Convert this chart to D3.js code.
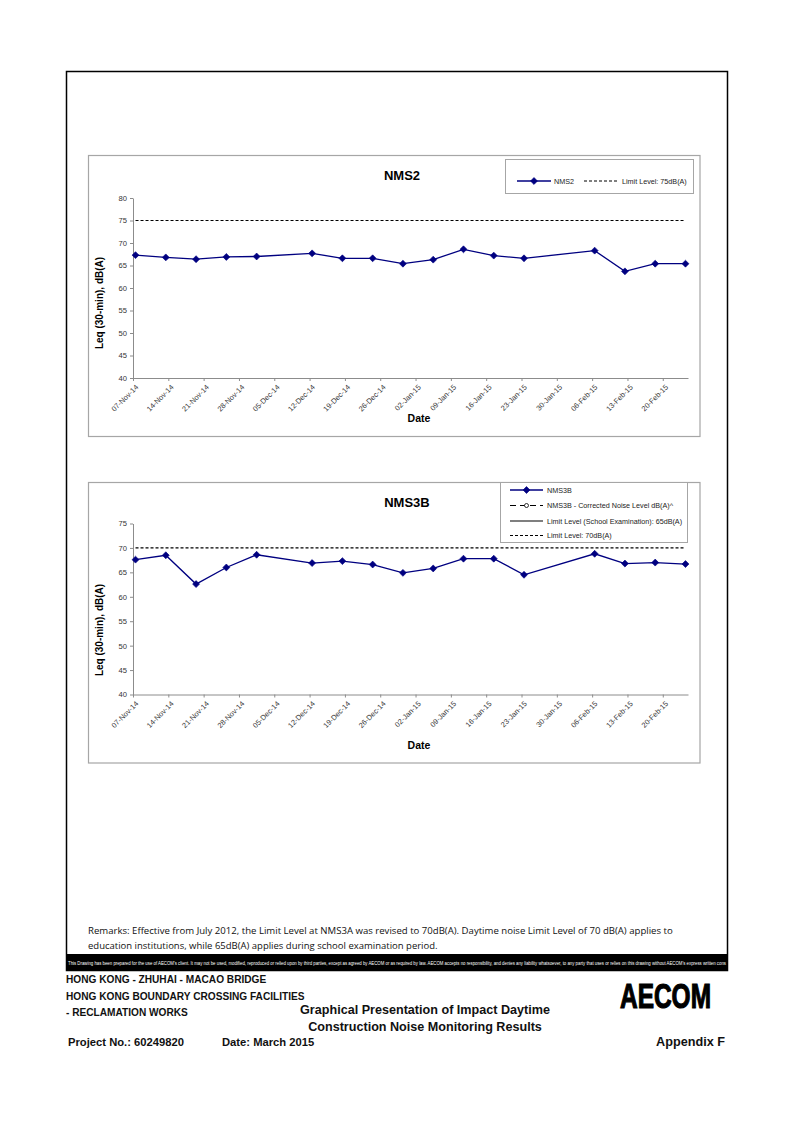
<!DOCTYPE html>
<html><head><meta charset="utf-8">
<script src="https://cdn.jsdelivr.net/npm/d3@7"></script>
<style>body{margin:0;background:#fff}</style>
</head><body><svg id="page" width="794" height="1122" xmlns="http://www.w3.org/2000/svg"></svg>
<script>
// ---------------- DATA ----------------
const sampleDates = ["2014-11-07","2014-11-13","2014-11-19","2014-11-25","2014-12-01","2014-12-12","2014-12-18","2014-12-24","2014-12-30","2015-01-05","2015-01-11","2015-01-17","2015-01-23","2015-02-06","2015-02-12","2015-02-18","2015-02-24"];
const nms2Values = [67.3,66.8,66.4,66.9,67.0,67.7,66.6,66.6,65.4,66.3,68.6,67.2,66.6,68.3,63.7,65.4,65.4];
const nms2Limit = [75,75,75,75,75,75,75,75,75,75,75,75,75,75,75,75,75];
const nms3bValues = [67.6,68.5,62.6,66.0,68.6,66.9,67.3,66.6,64.9,65.8,67.8,67.8,64.5,68.8,66.8,67.0,66.7];
const nms3bLimit = [70,70,70,70,70,70,70,70,70,70,70,70,70,70,70,70,70];
const nms3bCorrected = [];
const nms3bSchoolLimit = [];
const xDomainDates = ["2014-11-07","2015-02-25"];
const tickDates = ["2014-11-07","2014-11-14","2014-11-21","2014-11-28","2014-12-05","2014-12-12","2014-12-19","2014-12-26","2015-01-02","2015-01-09","2015-01-16","2015-01-23","2015-01-30","2015-02-06","2015-02-13","2015-02-20"];
const nms2YTicks = [40,45,50,55,60,65,70,75,80];
const nms3bYTicks = [40,45,50,55,60,65,70,75];
const nms2Legend = ["NMS2","Limit Level: 75dB(A)"];
const nms3bLegend = ["NMS3B","NMS3B - Corrected Noise Level dB(A)^","Limit Level (School Examination): 65dB(A)","Limit Level: 70dB(A)"];

// ---------------- SETUP ----------------
const svg = d3.select("#page");
const parse = d3.utcParse("%Y-%m-%d");
const fmt = d3.utcFormat("%d-%b-%y");
const ARIAL = "'Liberation Sans', Arial, sans-serif";
const NAVY = "#000080";
const sq = d3.symbol().type(d3.symbolSquare).size(24);

function fitText(sel, target){
  const fs = parseFloat(sel.attr("font-size"));
  const w = sel.node().getComputedTextLength();
  if (w > 0) sel.attr("font-size", (fs*target/w).toFixed(2));
  return sel;
}

function marker(g, cx, cy){
  g.append("path").attr("d", sq).attr("transform", `translate(${cx},${cy}) rotate(45)`).attr("fill", NAVY).attr("stroke", NAVY).attr("stroke-width", 0.6);
}

function drawChart(cfg){
  const g = svg.append("g");
  g.append("rect").attr("x", cfg.box[0]).attr("y", cfg.box[1]).attr("width", cfg.box[2]-cfg.box[0]).attr("height", cfg.box[3]-cfg.box[1])
    .attr("fill", "#fff").attr("stroke", "#a6a6a6").attr("stroke-width", 1.2);
  const P = cfg.plot;
  const x = d3.scaleUtc().domain(xDomainDates.map(parse)).range([P.left, P.right]);
  const y = d3.scaleLinear().domain([cfg.yTicks[0], cfg.yTicks[cfg.yTicks.length-1]]).range([P.bottom, P.top]);
  const mid = s => d3.utcHour.offset(parse(s), 12);

  // axes
  const xa = g.append("g").attr("transform", `translate(0,${P.bottom})`)
    .call(d3.axisBottom(x).tickValues(tickDates.map(parse)).tickFormat(fmt).tickSizeInner(3).tickSizeOuter(0));
  xa.select(".domain").attr("stroke", "#8c8c8c");
  xa.selectAll(".tick line").attr("stroke", "#8c8c8c");
  xa.selectAll(".tick text").attr("font-family", ARIAL).attr("font-size", 7.4).attr("fill", "#333")
    .attr("text-anchor", "end").attr("x", -3).attr("y", 8).attr("dy", "0.35em").attr("transform", "rotate(-45)");

  const ya = g.append("g").attr("transform", `translate(${P.left},0)`)
    .call(d3.axisLeft(y).tickValues(cfg.yTicks).tickSizeInner(3).tickSizeOuter(0).tickPadding(3));
  ya.select(".domain").attr("stroke", "#8c8c8c");
  ya.selectAll(".tick line").attr("stroke", "#8c8c8c");
  ya.selectAll(".tick text").attr("font-family", ARIAL).attr("font-size", 7.6).attr("fill", "#333");

  // limit line (dashed)
  const limitData = sampleDates.map((d,i)=>({d, v: cfg.limit[i]}));
  g.append("path").datum(limitData).attr("fill","none").attr("stroke","#000").attr("stroke-width",1.2).attr("stroke-dasharray","3,2")
    .attr("d", d3.line().x(p=>x(mid(p.d))).y(p=>y(p.v)));

  // main series
  const data = sampleDates.map((d,i)=>({d, v: cfg.values[i]}));
  g.append("path").datum(data).attr("fill","none").attr("stroke",NAVY).attr("stroke-width",1.3)
    .attr("d", d3.line().x(p=>x(mid(p.d))).y(p=>y(p.v)));
  data.forEach(p => marker(g, x(mid(p.d)), y(p.v)));

  // titles
  g.append("text").attr("x", cfg.titleX).attr("y", cfg.titleY).attr("text-anchor","middle")
    .attr("font-family", ARIAL).attr("font-weight","bold").attr("font-size", 13).text(cfg.title);
  g.append("text").attr("x", 419).attr("y", cfg.dateY).attr("text-anchor","middle")
    .attr("font-family", ARIAL).attr("font-weight","bold").attr("font-size", 10.5).text("Date");
  g.append("text").attr("transform", `translate(${cfg.yLabelX},${cfg.yLabelY}) rotate(-90)`).attr("text-anchor","middle")
    .attr("font-family", ARIAL).attr("font-weight","bold").attr("font-size", 10).text("Leq (30-min), dB(A)");
  return g;
}

// ---------------- FRAME ----------------
svg.append("rect").attr("x", 66.5).attr("y", 71.5).attr("width", 661).attr("height", 899).attr("fill","none").attr("stroke","#000").attr("stroke-width",1.5);

// ---------------- CHART 1 ----------------
const g1 = drawChart({
  box:[88.5,155.5,700,436.5],
  plot:{left:133, right:688, top:198, bottom:378},
  yTicks:nms2YTicks, values:nms2Values, limit:nms2Limit,
  title:"NMS2", titleX:402, titleY:180, dateY:422, yLabelX:103, yLabelY:303
});
(function(){
  const L = g1.append("g");
  L.append("rect").attr("x",505.5).attr("y",159.5).attr("width",188).attr("height",34).attr("fill","#fff").attr("stroke","#a6a6a6").attr("stroke-width",1);
  const ly = 181;
  L.append("line").attr("x1",517).attr("x2",551).attr("y1",ly).attr("y2",ly).attr("stroke",NAVY).attr("stroke-width",1.3);
  marker(L, 534, ly);
  L.append("text").attr("x",554).attr("y",ly+2.5).attr("font-family",ARIAL).attr("font-size",7.2).attr("fill","#222").text(nms2Legend[0]);
  L.append("line").attr("x1",584).attr("x2",619).attr("y1",ly).attr("y2",ly).attr("stroke","#000").attr("stroke-width",1.2).attr("stroke-dasharray","3,2");
  L.append("text").attr("x",622).attr("y",ly+2.5).attr("font-family",ARIAL).attr("font-size",7.2).attr("fill","#222").text(nms2Legend[1]);
})();

// ---------------- CHART 2 ----------------
const g2 = drawChart({
  box:[88.5,482.5,700,763],
  plot:{left:133, right:688, top:523.5, bottom:694.5},
  yTicks:nms3bYTicks, values:nms3bValues, limit:nms3bLimit,
  title:"NMS3B", titleX:407, titleY:507, dateY:749, yLabelX:103, yLabelY:630
});
(function(){
  const L = g2.append("g");
  L.append("rect").attr("x",500.5).attr("y",482.5).attr("width",187).attr("height",60).attr("fill","#fff").attr("stroke","#a6a6a6").attr("stroke-width",1);
  const rows = [490, 505.5, 521, 535.5];
  const x1 = 510, x2 = 543, tx = 547;
  L.append("line").attr("x1",x1).attr("x2",x2).attr("y1",rows[0]).attr("y2",rows[0]).attr("stroke",NAVY).attr("stroke-width",1.3);
  marker(L, (x1+x2)/2, rows[0]);
  L.append("line").attr("x1",x1).attr("x2",x2).attr("y1",rows[1]).attr("y2",rows[1]).attr("stroke","#000").attr("stroke-width",1.2).attr("stroke-dasharray","6,4");
  L.append("circle").attr("cx",(x1+x2)/2).attr("cy",rows[1]).attr("r",2).attr("fill","#fff").attr("stroke","#000").attr("stroke-width",0.8);
  L.append("line").attr("x1",x1).attr("x2",x2).attr("y1",rows[2]).attr("y2",rows[2]).attr("stroke","#000").attr("stroke-width",1.2);
  L.append("line").attr("x1",x1).attr("x2",x2).attr("y1",rows[3]).attr("y2",rows[3]).attr("stroke","#000").attr("stroke-width",1.2).attr("stroke-dasharray","3,2");
  nms3bLegend.forEach((t,i)=>{
    L.append("text").attr("x",tx).attr("y",rows[i]+2.5).attr("font-family",ARIAL).attr("font-size",7.2).attr("fill","#222").text(t);
  });
})();

// ---------------- REMARKS & FOOTER ----------------
const REM = "'Open Sans', 'Noto Sans', sans-serif";
fitText(svg.append("text").attr("x",88).attr("y",934).attr("font-family",REM).attr("font-size",10).attr("fill","#111")
  .text("Remarks: Effective from July 2012, the Limit Level at NMS3A was revised to 70dB(A). Daytime noise Limit Level of 70 dB(A) applies to"), 585);
fitText(svg.append("text").attr("x",88).attr("y",949).attr("font-family",REM).attr("font-size",10).attr("fill","#111")
  .text("education institutions, while 65dB(A) applies during school examination period."), 350);

svg.append("rect").attr("x",66).attr("y",954).attr("width",662).attr("height",17).attr("fill","#000");
svg.append("text").attr("x",68).attr("y",965).attr("font-family",ARIAL).attr("font-size",4.6).attr("fill","#fff")
  .attr("textLength",658).attr("lengthAdjust","spacingAndGlyphs")
  .text("This Drawing has been prepared for the use of AECOM's client. It may not be used, modified, reproduced or relied upon by third parties, except as agreed by AECOM or as required by law. AECOM accepts no responsibility, and denies any liability whatsoever, to any party that uses or relies on this drawing without AECOM's express written cons");

function footText(t, x, y, fs, anchor){
  return svg.append("text").attr("x",x).attr("y",y).attr("font-family",ARIAL).attr("font-weight","bold").attr("font-size",fs).attr("fill","#111").attr("text-anchor",anchor||"start").text(t);
}
const fl2 = fitText(footText("HONG KONG BOUNDARY CROSSING FACILITIES", 66, 999.5, 10), 239);
const fsL = fl2.attr("font-size");
footText("HONG KONG - ZHUHAI - MACAO BRIDGE", 66, 983, fsL);
footText("- RECLAMATION WORKS", 66, 1016, fsL);
const ft1 = fitText(footText("Graphical Presentation of Impact Daytime", 425, 1014, 12, "middle"), 250);
footText("Construction Noise Monitoring Results", 425, 1031, ft1.attr("font-size"), "middle");
const fp = fitText(footText("Project No.: 60249820", 68, 1046, 11.5), 116);
footText("Date: March 2015", 222, 1046, fp.attr("font-size"));
fitText(footText("Appendix F", 725, 1046, 12, "end"), 69);

// AECOM logo
svg.append("text").attr("x",620).attr("y",1008).attr("font-family",ARIAL).attr("font-weight","bold").attr("font-size",35)
  .attr("fill","#000").attr("stroke","#000").attr("stroke-width",1.2)
  .attr("textLength",91).attr("lengthAdjust","spacingAndGlyphs").text("AECOM");
</script>
</body></html>
